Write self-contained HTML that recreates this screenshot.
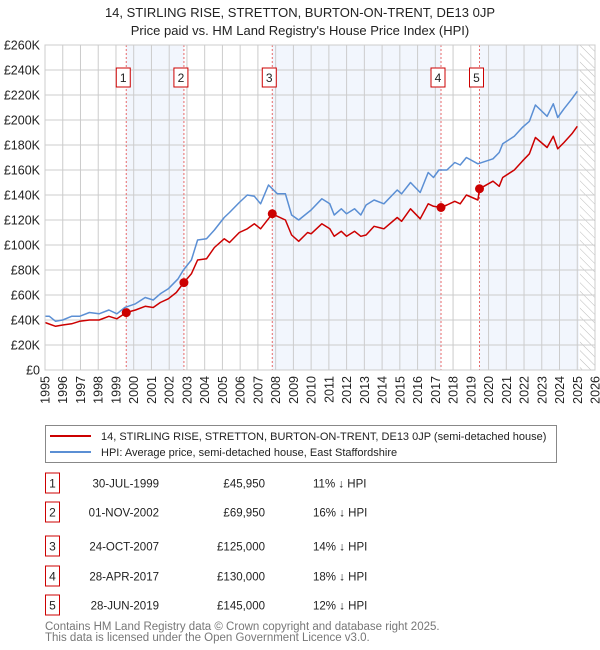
<!DOCTYPE html>
<html><head><meta charset="utf-8"><style>
body{margin:0;background:#fff;font-family:"Liberation Sans","DejaVu Sans",sans-serif}
svg{display:block}
</style></head><body>
<svg id="c" width="600" height="650" xmlns="http://www.w3.org/2000/svg"></svg>
<script>
const years=[1995,1996,1997,1998,1999,2000,2001,2002,2003,2004,2005,2006,2007,2008,2009,2010,2011,2012,2013,2014,2015,2016,2017,2018,2019,2020,2021,2022,2023,2024,2025,2026];
const yTicks=[0,20,40,60,80,100,120,140,160,180,200,220,240,260];
const hpiT=[1995.0,1995.25,1995.6,1996.0,1996.5,1996.95,1997.5,1998.05,1998.6,1999.05,1999.5,2000.1,2000.65,2001.1,2001.5,2001.95,2002.5,2002.8,2003.25,2003.6,2004.1,2004.55,2005.1,2005.4,2005.95,2006.4,2006.8,2007.15,2007.6,2008.1,2008.55,2008.9,2009.3,2010.0,2010.6,2011.05,2011.3,2011.7,2012.0,2012.45,2012.8,2013.1,2013.55,2014.1,2014.85,2015.1,2015.6,2016.15,2016.6,2016.9,2017.2,2017.65,2018.1,2018.4,2018.75,2019.4,2020.25,2020.6,2020.8,2021.45,2021.9,2022.3,2022.64,2023.3,2023.65,2023.9,2024.25,2024.7,2025.0];
const hpiV=[43,43,39,40,43,43,46,45,48,45,50,53,58,56,61,65,73,80,88,104,105,112,122,126,134,140,139,133,148,141,141,124,120,128,137,133,124,129,125,129,124,132,136,133,144,141,150,142,158,154,160,160,166,164,170,165,169,174,181,187,194,199,212,203,213,202,209,217,223];
const redT=[1995.0,1995.6,1996.0,1996.5,1996.95,1997.5,1998.05,1998.6,1999.05,1999.58,2000.1,2000.65,2001.1,2001.5,2001.95,2002.4,2002.83,2003.25,2003.6,2004.1,2004.55,2005.1,2005.4,2005.95,2006.4,2006.8,2007.15,2007.81,2008.1,2008.55,2008.9,2009.3,2009.8,2010.0,2010.6,2011.05,2011.3,2011.7,2012.0,2012.45,2012.8,2013.1,2013.55,2014.1,2014.85,2015.1,2015.6,2016.15,2016.6,2016.9,2017.32,2017.65,2018.1,2018.4,2018.75,2019.4,2019.49,2020.25,2020.6,2020.8,2021.45,2021.9,2022.3,2022.64,2023.3,2023.65,2023.9,2024.25,2024.7,2025.0];
const redV=[38,35,36,37,39,40,40,43,41,46,48,51,50,54,57,62,70,77,88,89,98,105,102,110,113,117,113,125,123,120,108,103,110,109,117,113,107,111,107,111,107,108,115,113,122,119,129,121,133,131,130,132,135,133,140,136,145,151,147,154,160,167,173,186,178,187,177,182,189,195];
const saleT=[1999.58,2002.83,2007.81,2017.32,2019.49];
const saleV=[45.95,69.95,125,130,145];
const saleLbl=["1","2","3","4","5"];
const saleDate=["30-JUL-1999","01-NOV-2002","24-OCT-2007","28-APR-2017","28-JUN-2019"];
const salePrice=["£45,950","£69,950","£125,000","£130,000","£145,000"];
const saleDiff=["11% ↓ HPI","16% ↓ HPI","14% ↓ HPI","18% ↓ HPI","12% ↓ HPI"];

const X0=45,X1=595,Y0=370,Y1=45;
const xs=t=>X0+(t-1995)/(2026-1995)*(X1-X0);
const ys=v=>Y0-v/260*(Y0-Y1);
const S=document.getElementById('c');
const NS='http://www.w3.org/2000/svg';
function mk(tag,at,parent){const e=document.createElementNS(NS,tag);for(const k in at)e.setAttribute(k,at[k]);(parent||S).appendChild(e);return e;}

let t=mk('text',{x:300,y:17,'text-anchor':'middle','font-size':13,fill:'#222'});t.textContent='14, STIRLING RISE, STRETTON, BURTON-ON-TRENT, DE13 0JP';

t=mk('text',{x:300,y:35,'text-anchor':'middle','font-size':13,fill:'#222'});t.textContent="Price paid vs. HM Land Registry's House Price Index (HPI)";


const bands=[[saleT[0],saleT[1]],[saleT[2],saleT[3]],[saleT[4],2025.1]];
bands.forEach(b=>{const r=mk('rect',{x:xs(b[0]),y:Y1,width:xs(b[1])-xs(b[0]),height:Y0-Y1,fill:'#f2f6fd'});
});
const defs=mk('defs',{});const p=mk('pattern',{id:'h',width:6,height:6,patternUnits:'userSpaceOnUse',patternTransform:'rotate(-45)'},defs);
mk('line',{x1:0,y1:0,x2:0,y2:6,stroke:'#bbb','stroke-width':1},p);
let hr=mk('rect',{x:xs(2025.15),y:Y1,width:X1-xs(2025.15),height:Y0-Y1,fill:'url(#h)'});


years.forEach(y=>{const l=mk('line',{x1:xs(y),x2:xs(y),y1:Y1,y2:Y0,stroke:'#ccc','stroke-width':1});

const tx=mk('text',{x:0,y:0,'font-size':12.5,fill:'#222','text-anchor':'end',transform:`translate(${xs(y)+4.5},${Y0+6}) rotate(-90)`});tx.textContent=y;
});
yTicks.forEach(v=>{const l=mk('line',{x1:X0,x2:X1,y1:ys(v),y2:ys(v),stroke:'#ccc','stroke-width':1});

const tx=mk('text',{x:X0-5,y:ys(v)+4.5,'font-size':12.5,fill:'#222','text-anchor':'end'});tx.textContent=v===0?'£0':'£'+v+'K';
});

saleT.forEach((s,i)=>{const l=mk('line',{x1:xs(s),x2:xs(s),y1:Y1,y2:Y0,stroke:'#e86a6a','stroke-width':1,'stroke-dasharray':'2,2'});

const g=mk('g',{});
mk('rect',{x:xs(s)-10,y:68,width:14,height:19,fill:'#fff',stroke:'#cc0000','stroke-width':1},g);
const tx=mk('text',{x:xs(s)-3,y:82,'font-size':12,'text-anchor':'middle',fill:'#222'},g);tx.textContent=saleLbl[i];});

function line(T,V,color,name){const d=T.map((tt,i)=>(i?'L':'M')+xs(tt).toFixed(1)+','+ys(V[i]).toFixed(1)).join('');
const e=mk('path',{d,fill:'none',stroke:color,'stroke-width':1.5,'stroke-linejoin':'round'});
}
line(hpiT,hpiV,'#5b8fd4','hpi-line');
line(redT,redV,'#cc0000','price-paid-line');
saleT.forEach((s,i)=>{const c=mk('circle',{cx:xs(s),cy:ys(saleV[i]),r:4.5,fill:'#cc0000'});
});
let fr=mk('rect',{x:X0,y:Y1,width:X1-X0,height:Y0-Y1,fill:'none',stroke:'#ccc'});


const lg=mk('g',{});
mk('rect',{x:45.5,y:425.5,width:511,height:37,fill:'#fff',stroke:'#888'},lg);
mk('line',{x1:50,x2:91,y1:436,y2:436,stroke:'#cc0000','stroke-width':2},lg);
mk('line',{x1:50,x2:91,y1:452,y2:452,stroke:'#5b8fd4','stroke-width':2},lg);
t=mk('text',{x:101,y:440,'font-size':11,fill:'#222'},lg);t.textContent='14, STIRLING RISE, STRETTON, BURTON-ON-TRENT, DE13 0JP (semi-detached house)';
t=mk('text',{x:101,y:456,'font-size':11,fill:'#222'},lg);t.textContent='HPI: Average price, semi-detached house, East Staffordshire';

const rowY=[483,512,546,576,605];
saleLbl.forEach((l,i)=>{const g=mk('g',{});
const y=rowY[i];
mk('rect',{x:45.5,y:y-10,width:14,height:20,fill:'#fff',stroke:'#cc0000'},g);
let a=mk('text',{x:52.5,y:y+4.5,'font-size':12,'text-anchor':'middle',fill:'#222'},g);a.textContent=l;
a=mk('text',{x:159,y:y+4.5,'font-size':11.5,'text-anchor':'end',fill:'#222'},g);a.textContent=saleDate[i];
a=mk('text',{x:265,y:y+4.5,'font-size':11.5,'text-anchor':'end',fill:'#222'},g);a.textContent=salePrice[i];
a=mk('text',{x:313,y:y+4.5,'font-size':11.5,fill:'#222'},g);a.textContent=saleDiff[i];});

t=mk('text',{x:45,y:630,'font-size':11.5,fill:'#777'});t.textContent='Contains HM Land Registry data © Crown copyright and database right 2025.';

t=mk('text',{x:45,y:641,'font-size':11.5,fill:'#777'});t.textContent='This data is licensed under the Open Government Licence v3.0.';

</script>
</body></html>
